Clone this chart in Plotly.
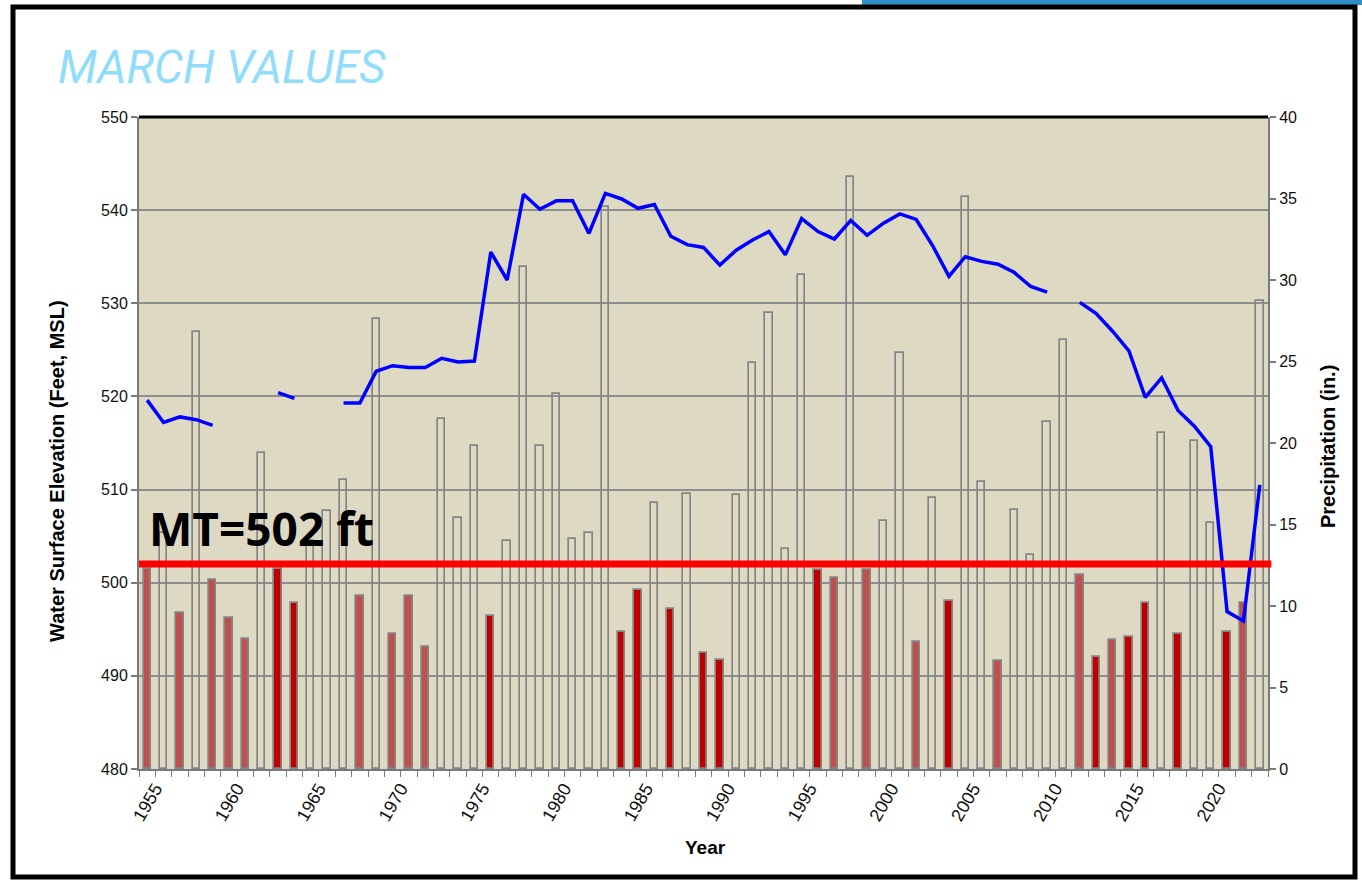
import plotly.graph_objects as go

# March reservoir water-surface elevation and March precipitation, 1955-2023
years = list(range(1955, 2024))

elevation_ft = [
    519.6, 517.2, 517.8, 517.5, 516.9, None, None, None, 520.4, 519.8,
    None, None, 519.3, 519.3, 522.7, 523.3, 523.1, 523.1, 524.1, 523.7,
    523.8, 535.5, 532.5, 541.7, 540.1, 541.0, 541.0, 537.5, 541.8, 541.2,
    540.2, 540.6, 537.2, 536.3, 536.0, 534.1, 535.7, 536.8, 537.7, 535.2,
    539.1, 537.7, 536.9, 538.9, 537.3, 538.6, 539.6, 539.0, 536.2, 532.9,
    535.0, 534.5, 534.2, 533.3, 531.8, 531.2, None, 530.1, 528.9, 527.0,
    524.9, 519.9, 522.0, 518.5, 516.8, 514.6, 496.9, 495.9, 510.5,
]

precip_in = [
    12.3, 14.5, 9.6, 26.8, 11.6, 9.25, 8.0, 19.4, 12.3, 10.2,
    14.0, 15.85, 17.7, 10.6, 27.6, 8.3, 10.6, 7.5, 21.5, 15.4,
    19.8, 9.4, 14.0, 30.8, 19.8, 23.0, 14.1, 14.5, 34.5, 8.4,
    11.0, 16.3, 9.8, 16.9, 7.1, 6.7, 16.8, 24.9, 28.0, 13.5,
    30.3, 12.2, 11.7, 36.3, 12.2, 15.2, 25.5, 7.8, 16.6, 10.3,
    35.1, 17.6, 6.6, 15.9, 13.1, 21.3, 26.3, 11.9, 6.9, 7.9,
    8.1, 10.2, 20.6, 8.3, 20.1, 15.1, 8.4, 10.2, 28.7,
]

# Dry years (precipitation below the threshold) are filled red;
# these years are shown in the darker red
dry_threshold_in = 12.5
dark_red_years = [1963, 1964, 1976, 1984, 1985, 1987, 1989, 1990,
                  1996, 2004, 2013, 2015, 2016, 2018, 2021]

mt_elevation_ft = 502
x_tick_years = list(range(1955, 2021, 5))
elev_ticks = [480, 490, 500, 510, 520, 530, 540, 550]
precip_ticks = [0, 5, 10, 15, 20, 25, 30, 35, 40]

LIGHT_RED = "#C0504D"
DARK_RED = "#C00000"
BAR_EDGE = "#858585"
PLOT_BG = "#DDD9C3"
GRID = "#8E8E8E"
AXIS = "#7A7A7A"
TICK_FONT = dict(family="Liberation Sans, Arial", size=16, color="#111111")

bar_fill = []
for yr, p in zip(years, precip_in):
    if p >= dry_threshold_in:
        bar_fill.append("rgba(0,0,0,0)")
    elif yr in dark_red_years:
        bar_fill.append(DARK_RED)
    else:
        bar_fill.append(LIGHT_RED)

fig = go.Figure()

fig.add_trace(go.Bar(
    x=years, y=precip_in, yaxis="y",
    width=0.45,
    marker=dict(color=bar_fill, line=dict(color=BAR_EDGE, width=1.7)),
    hovertemplate="%{x}: %{y} in.<extra></extra>",
    name="Precipitation",
))

fig.add_trace(go.Scatter(
    x=years, y=elevation_ft, yaxis="y2",
    mode="lines", connectgaps=False,
    line=dict(color="#0000FF", width=3.5),
    hovertemplate="%{x}: %{y} ft<extra></extra>",
    name="Water Surface Elevation",
))

fig.update_layout(
    width=1362, height=882,
    autosize=False,
    margin=dict(l=139, r=94, t=117, b=113),
    paper_bgcolor="white",
    plot_bgcolor=PLOT_BG,
    showlegend=False,
    bargap=0,
    xaxis=dict(
        type="linear",
        range=[1954.5, 2023.5],
        tickmode="array",
        tickvals=x_tick_years,
        ticktext=[str(y) for y in x_tick_years],
        tickangle=-60,
        tickfont=dict(family="Liberation Sans, Arial", size=18, color="#111111"),
        ticks="outside", ticklen=0, tickwidth=0,
        ticklabelshift=8,
        minor=dict(ticks="outside", tick0=1954.5, dtick=1, ticklen=6,
                   tickcolor=AXIS, tickwidth=1, showgrid=False),
        showgrid=False,
        zeroline=False,
        showline=True, linecolor=AXIS, linewidth=2,
    ),
    # Precipitation axis (right side)
    yaxis=dict(
        side="right",
        range=[0, 40],
        tickvals=precip_ticks,
        ticks="outside", ticklen=6, tickcolor=AXIS, tickwidth=1.5,
        tickfont=TICK_FONT,
        showgrid=False, zeroline=False,
        showline=True, linecolor=AXIS, linewidth=2,
    ),
    # Water surface elevation axis (left side)
    yaxis2=dict(
        side="left",
        overlaying="y",
        range=[480, 550],
        tickvals=elev_ticks,
        ticks="outside", ticklen=6, tickcolor=AXIS, tickwidth=1.5,
        tickfont=TICK_FONT,
        showgrid=True, gridcolor=GRID, gridwidth=1.6,
        zeroline=False,
        showline=True, linecolor=AXIS, linewidth=2,
    ),
)

shapes = [
    # black top edge of the plotting area
    dict(type="line", xref="paper", yref="paper", x0=0, x1=1, y0=1, y1=1,
         line=dict(color="black", width=3), layer="above"),
    # minimum threshold line
    dict(type="line", xref="paper", yref="y2", x0=0, x1=1.003,
         y0=mt_elevation_ft, y1=mt_elevation_ft,
         line=dict(color="#FF0000", width=7), layer="above"),
    # slide decoration strip at top right
    dict(type="rect", xref="paper", yref="paper",
         x0=(862 - 139) / 1129, x1=(1362 - 139) / 1129,
         y0=(769 - 5) / 652, y1=(769 + 2) / 652,
         fillcolor="#2F8FC8", line=dict(width=0), layer="below"),
    # outer frame
    dict(type="rect", xref="paper", yref="paper",
         x0=(13 - 139) / 1129, x1=(1355 - 139) / 1129,
         y0=(769 - 877) / 652, y1=(769 - 7) / 652,
         line=dict(color="black", width=5), fillcolor="rgba(0,0,0,0)", layer="above"),
]
fig.update_layout(shapes=shapes)

annotations = [
    dict(text="MARCH VALUES", xref="paper", yref="paper",
         x=(56 - 139) / 1129, y=(769 - 67) / 652, xanchor="left", yanchor="middle",
         showarrow=False,
         font=dict(family="Roboto, Arial", size=46, color="#8FDCFB", style="italic")),
    dict(text=f"<b>MT={mt_elevation_ft} ft</b>", xref="paper", yref="y2",
         x=(147 - 139) / 1129, y=505.9, xanchor="left", yanchor="middle",
         showarrow=False,
         font=dict(family="Open Sans, DejaVu Sans", size=46, color="black")),
    dict(text="<b>Water Surface Elevation (Feet, MSL)</b>", xref="paper", yref="paper",
         x=(57 - 139) / 1129, y=(769 - 471) / 652, xanchor="center", yanchor="middle",
         textangle=-90, showarrow=False,
         font=dict(family="Liberation Sans, Arial", size=20, color="black")),
    dict(text="<b>Precipitation (in.)</b>", xref="paper", yref="paper",
         x=(1328 - 139) / 1129, y=(769 - 447) / 652, xanchor="center", yanchor="middle",
         textangle=-90, showarrow=False,
         font=dict(family="Liberation Sans, Arial", size=20, color="black")),
    dict(text="<b>Year</b>", xref="paper", yref="paper",
         x=(705 - 139) / 1129, y=(769 - 847) / 652, xanchor="center", yanchor="middle",
         showarrow=False,
         font=dict(family="Liberation Sans, Arial", size=19, color="black")),
]
fig.update_layout(annotations=annotations)

fig.write_html("out.html")
